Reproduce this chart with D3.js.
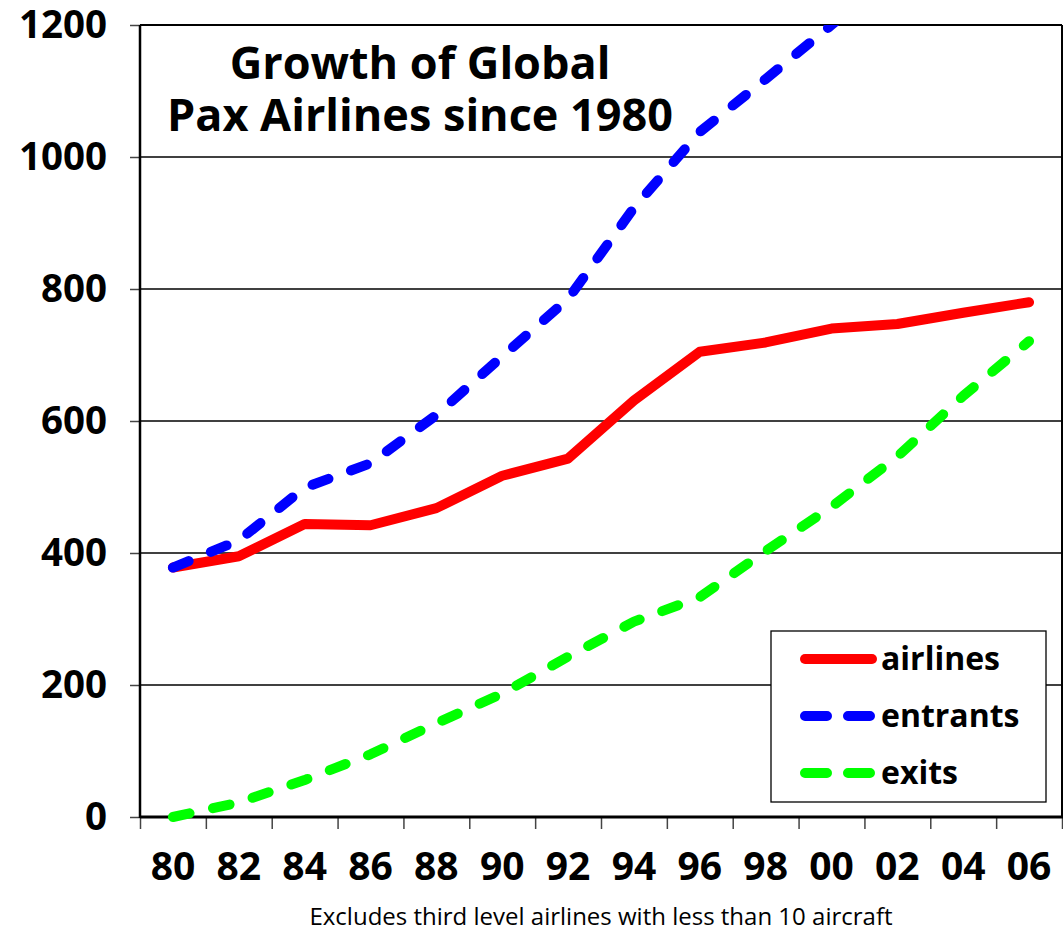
<!DOCTYPE html>
<html>
<head>
<meta charset="utf-8">
<script src="https://cdn.jsdelivr.net/npm/d3@7"></script>
<style>
  body { margin: 0; background: #fff; }
  svg { display: block; }
</style>
</head>
<body>
<div id="chart"></div>
<script>
// values
const years = ["80", "82", "84", "86", "88", "90", "92", "94", "96", "98", "00", "02", "04", "06"];
const airlines = [378, 395, 444, 442, 468, 517, 543, 631, 705, 719, 740, 747, 764, 780];
const entrants = [378, 419, 499, 536, 609, 698, 785, 923, 1038, 1118, 1200, 1285, 1365, 1445];
const exits = [0, 22, 56, 95, 142, 187, 243, 296, 333, 403, 470, 546, 638, 721];
const yTicks = [0, 200, 400, 600, 800, 1000, 1200];

const seriesList = [
  { name: "airlines", values: airlines, color: "#ff0000", dash: null, legendDash: null },
  { name: "entrants", values: entrants, color: "#0000ff", dash: "17,24", legendDash: "22,21" },
  { name: "exits", values: exits, color: "#00ff00", dash: "17,24", legendDash: "22,21" }
];

const W = 1063, H = 930;
const plot = { left: 140, right: 1062, top: 25, bottom: 817 };
const boldFont = "'Open Sans', 'Noto Sans', sans-serif";

const svg = d3.select("#chart")
  .append("svg")
  .attr("width", W)
  .attr("height", H);

const x = d3.scaleBand()
  .domain(years)
  .range([plot.left, plot.right])
  .paddingInner(0)
  .paddingOuter(0);

const xEdges = d3.scaleLinear()
  .domain([0, years.length])
  .range([plot.left, plot.right]);

const y = d3.scaleLinear()
  .domain([0, 1200])
  .range([plot.bottom, plot.top]);

// gridlines
svg.append("g")
  .selectAll("line")
  .data(yTicks.filter(d => d > 0 && d < 1200))
  .enter().append("line")
  .attr("x1", plot.left)
  .attr("x2", plot.right)
  .attr("y1", d => y(d))
  .attr("y2", d => y(d))
  .attr("stroke", "#000")
  .attr("stroke-width", 1.3);

// y axis
const yAxis = svg.append("g")
  .attr("transform", `translate(${plot.left},0)`)
  .call(d3.axisLeft(y).tickValues(yTicks).tickSize(10).tickPadding(23).tickFormat(d3.format("d")));
yAxis.select(".domain").remove();
yAxis.selectAll(".tick line").attr("stroke", "#444").attr("stroke-width", 1.5);
yAxis.selectAll("text")
  .attr("font-family", boldFont)
  .attr("font-weight", "bold")
  .attr("font-size", 38.5)
  .attr("fill", "#000");

// x axis tick marks at category edges
const xTickAxis = svg.append("g")
  .attr("transform", `translate(0,${plot.bottom})`)
  .call(d3.axisBottom(xEdges).tickValues(d3.range(0, years.length + 1)).tickSize(12).tickFormat(""));
xTickAxis.select(".domain").remove();
xTickAxis.selectAll(".tick line").attr("stroke", "#444").attr("stroke-width", 1.5);

// x labels
const xAxis = svg.append("g")
  .attr("transform", `translate(0,${plot.bottom})`)
  .call(d3.axisBottom(x).tickSize(0).tickPadding(35.5));
xAxis.select(".domain").remove();
xAxis.selectAll("text")
  .attr("font-family", boldFont)
  .attr("font-weight", "bold")
  .attr("font-size", 39)
  .attr("fill", "#000");

// plot frame
svg.append("line").attr("x1", plot.left).attr("x2", plot.right).attr("y1", plot.top).attr("y2", plot.top)
  .attr("stroke", "#000").attr("stroke-width", 2);
svg.append("line").attr("x1", plot.right).attr("x2", plot.right).attr("y1", plot.top).attr("y2", plot.bottom)
  .attr("stroke", "#000").attr("stroke-width", 2);
svg.append("line").attr("x1", plot.left).attr("x2", plot.left).attr("y1", plot.top).attr("y2", plot.bottom + 1)
  .attr("stroke", "#000").attr("stroke-width", 2.5);
svg.append("line").attr("x1", plot.left).attr("x2", plot.right + 1).attr("y1", plot.bottom).attr("y2", plot.bottom)
  .attr("stroke", "#000").attr("stroke-width", 3);

// clip the lines to the plot
svg.append("clipPath")
  .attr("id", "plotClip")
  .append("rect")
  .attr("x", plot.left)
  .attr("y", plot.top)
  .attr("width", plot.right - plot.left + 10)
  .attr("height", plot.bottom - plot.top + 10);

const line = d3.line()
  .x((d, i) => x(years[i]) + x.bandwidth() / 2)
  .y(d => y(d));

svg.append("g")
  .attr("clip-path", "url(#plotClip)")
  .selectAll("path")
  .data(seriesList)
  .enter().append("path")
  .attr("d", d => line(d.values))
  .attr("fill", "none")
  .attr("stroke", d => d.color)
  .attr("stroke-width", 10)
  .attr("stroke-linecap", "round")
  .attr("stroke-linejoin", "round")
  .attr("stroke-dasharray", d => d.dash);

// title
const title = svg.append("text")
  .attr("text-anchor", "middle")
  .attr("font-family", boldFont)
  .attr("font-weight", "bold")
  .attr("font-size", 45)
  .attr("fill", "#000");
title.append("tspan").attr("x", 420).attr("y", 79).text("Growth of Global");
title.append("tspan").attr("x", 420).attr("y", 131).text("Pax Airlines since 1980");

// legend
const legend = svg.append("g");
legend.append("rect")
  .attr("x", 771)
  .attr("y", 631)
  .attr("width", 275)
  .attr("height", 171)
  .attr("fill", "#fff")
  .attr("stroke", "#000")
  .attr("stroke-width", 1.3);

const legendRows = legend.selectAll(".row")
  .data(seriesList)
  .enter().append("g")
  .attr("class", "row")
  .attr("transform", (d, i) => `translate(0,${659 + i * 57})`);

legendRows.append("line")
  .attr("x1", 805)
  .attr("x2", 872)
  .attr("stroke", d => d.color)
  .attr("stroke-width", 10)
  .attr("stroke-linecap", "round")
  .attr("stroke-dasharray", d => d.legendDash);

legendRows.append("text")
  .attr("x", 881)
  .attr("y", 11)
  .attr("font-family", boldFont)
  .attr("font-weight", "bold")
  .attr("font-size", 32)
  .attr("fill", "#000")
  .text(d => d.name);

// footnote
svg.append("text")
  .attr("x", 601)
  .attr("y", 925)
  .attr("text-anchor", "middle")
  .attr("font-family", "'Open Sans', 'Noto Sans', sans-serif")
  .attr("font-size", 24)
  .attr("fill", "#000")
  .text("Excludes third level airlines with less than 10 aircraft");
</script>
</body>
</html>
